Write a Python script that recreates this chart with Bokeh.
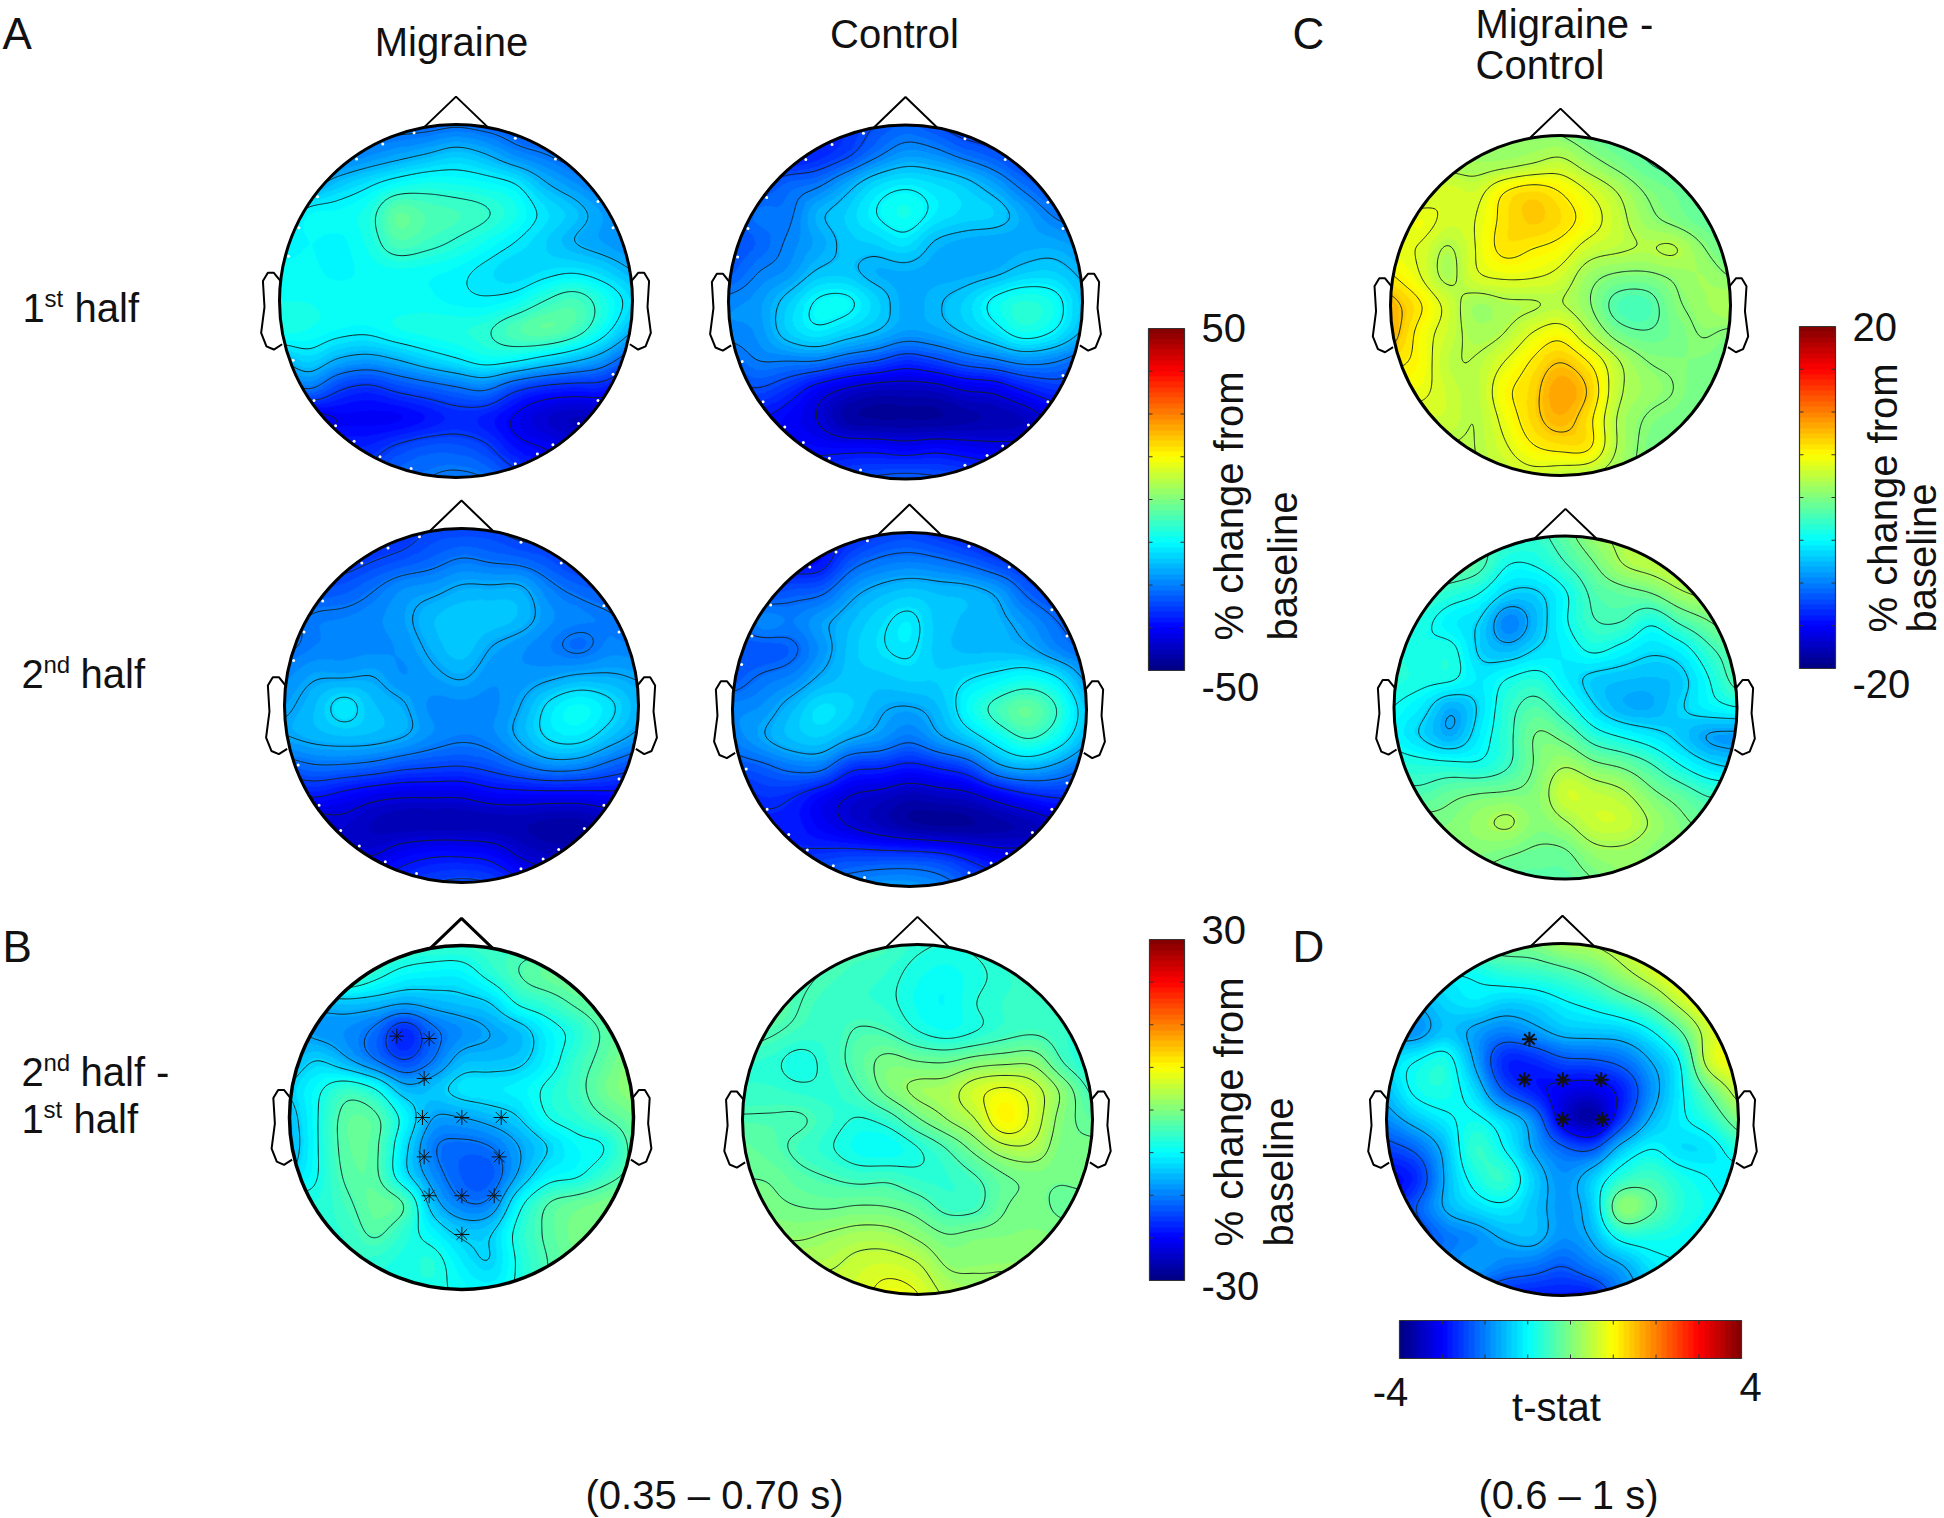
import numpy as np
from bokeh.plotting import figure
from bokeh.models import Range1d, LinearColorMapper
from bokeh.core.properties import value
from bokeh.embed import file_html
from bokeh.resources import INLINE

# ---- values: 13 x 13 samples over each head, top row first (% change / t) ----
migraine_first = [
 [-26,-26,-26,-27,-28,-28,-27,-28,-29,-30,-30,-30,-30],
 [-26,-26,-26,-24,-22,-20,-18,-20,-24,-26,-28,-28,-28],
 [-24,-22,-18,-15,-12,-10.5,-11,-12,-14,-19.5,-23,-26,-26],
 [-18,-12.5,-12,-10,-3,-5,-6,-7.5,-10.5,-15,-18,-22,-24],
 [-14,-12.5,-13,-10.5,-5,-6.5,-8.5,-11,-14,-17,-20,-22,-24],
 [-12,-12,-13,-12,-11.5,-12,-13,-15,-17,-15.5,-14.5,-16.5,-20],
 [-11,-11,-11.5,-12,-12,-12,-13,-13.5,-12,-8,-5.5,-10,-16],
 [-10,-11,-12.5,-13,-11,-10,-9.5,-8.5,-5,-3,-5.5,-12,-20],
 [-20,-16.5,-20.5,-22,-20,-17,-14.5,-12,-13,-16,-19,-23,-30],
 [-30,-26,-31.5,-33.5,-31,-29,-27,-25.5,-31,-34,-35,-35,-40],
 [-40,-40,-38,-38,-38,-36,-34,-35,-38.5,-42,-44,-44,-44],
 [-34,-34,-34,-34,-31,-29,-29,-31,-36,-38,-40,-40,-40],
 [-30,-30,-30,-30,-27,-26,-25,-26,-30,-35,-35,-35,-35],
]
control_first = [
 [-33,-33,-33,-33,-33,-30,-28,-30,-33,-33,-33,-33,-33],
 [-36,-36,-36,-34,-31,-26,-22.5,-23.5,-26.5,-29,-32,-32,-32],
 [-33,-31,-27.5,-26,-21,-16,-14,-15.5,-17.5,-21.5,-26.5,-30,-30],
 [-30,-26,-26,-20,-17,-13,-10.5,-14,-16,-17,-21,-25.5,-28],
 [-30,-28,-24.5,-21.5,-18,-17,-15,-19.5,-21,-21.5,-21,-21,-23],
 [-29,-25,-23,-18.5,-18,-20.5,-20.5,-21,-21,-20,-17.5,-17,-20],
 [-24,-22.5,-17.5,-12.5,-12,-16.5,-21,-19.5,-17,-12,-9,-11,-18],
 [-24,-23,-17,-14,-16.5,-19,-22,-21,-18.5,-15,-10.5,-13,-19.5],
 [-28,-25,-25,-25,-28,-30,-33,-31,-28,-26,-23.5,-24.5,-28],
 [-32,-30.5,-33.5,-38.5,-42,-44,-44,-43.5,-41,-40,-36,-33,-33],
 [-36,-36,-38,-41,-46,-47,-47,-47,-46,-45,-44,-40,-40],
 [-36,-36,-36,-37,-37,-37,-38,-37,-38,-39,-39,-39,-39],
 [-32,-32,-32,-32,-30,-29,-28,-29,-30,-32,-32,-32,-32],
]
migraine_second = [
 [-33,-33,-33,-33,-33,-31,-31,-31,-33,-33,-33,-33,-33],
 [-33,-33,-33,-31.5,-30,-28,-26,-27,-28,-30,-33,-33,-33],
 [-31,-30,-29,-26.5,-23.5,-22.5,-20.5,-20.5,-20.5,-25,-27.5,-29,-29],
 [-28,-25.5,-25,-24,-22,-19,-17.5,-17.5,-19,-23,-24.5,-25.5,-28],
 [-27,-25,-24.5,-24,-23,-20,-17.5,-21,-23,-25,-27,-24.5,-25],
 [-24,-21.5,-21.5,-21,-23.5,-22,-20.5,-23,-23,-22,-20.5,-20.5,-21.5],
 [-22,-19,-14.5,-18.5,-20.5,-24,-24,-24,-21,-15,-12,-15,-20],
 [-21,-19.5,-18.5,-19,-20.5,-23.5,-25,-24,-20,-15,-14,-18,-22],
 [-28,-26,-26,-27,-29,-30,-30.5,-29,-26,-23,-23.5,-27,-30],
 [-36,-35,-37,-39,-40,-40,-40,-38,-37.5,-37.5,-37.5,-37,-37],
 [-43,-43,-42,-44,-45,-45,-45,-45,-45,-46,-46,-44,-44],
 [-41,-41,-41,-41.5,-38.5,-37,-37,-38,-42,-44,-44,-44,-44],
 [-35,-35,-35,-35,-33,-31,-30,-31,-35,-38,-38,-38,-38],
]
control_second = [
 [-36,-36,-36,-36,-35,-32,-31,-33,-35,-36,-36,-36,-36],
 [-37,-37,-37,-36,-29,-26,-25,-26,-28,-31,-33,-35,-35],
 [-33,-31,-29,-28,-22.5,-19.5,-18,-19,-19.5,-22,-28,-31,-31],
 [-29,-24,-25,-22,-19,-16,-14,-18,-19,-20,-23,-27,-30],
 [-29,-29.5,-28,-23,-18,-15.5,-14.5,-18,-19,-19,-20,-24,-27],
 [-29,-26,-24,-20,-18,-18,-17,-17,-15,-13,-11,-14,-22],
 [-24,-23,-19,-15,-17,-20.5,-21.5,-19,-12,-6,-2.5,-8,-18],
 [-25,-21.5,-18.5,-17.5,-21,-23,-26,-22,-18,-12.5,-8,-12,-20],
 [-30,-28.5,-26,-26,-33,-34,-36,-34,-31,-23,-20.5,-23,-28],
 [-36,-33,-34,-38,-41.5,-43,-45,-44,-43,-39.5,-36,-34,-34],
 [-36,-35,-35,-38,-41,-43.5,-46,-47,-47,-46,-45,-42,-42],
 [-33,-33,-33,-32,-31,-31,-31,-32,-35,-38,-38,-38,-38],
 [-26,-26,-26,-25,-24,-22,-22,-24,-28,-30,-30,-30,-30],
]
migraine_diff = [
 [-4,-4,-4,-4,-4,-4.5,-4.5,-4,-4,-4,-4,-4,-4],
 [-3,-3,-3,-5.5,-7.5,-8,-8,-5.5,-3,-1.5,-1,-1,-1],
 [-11.5,-11.5,-11,-11.5,-12.5,-11.7,-11,-10,-6,-4.5,-2.5,-1,-1],
 [-12,-13.5,-14.2,-16.3,-20.5,-16.3,-14.2,-12.8,-11.4,-8,-5.5,-2.5,-1],
 [-12,-10,-12.4,-15.6,-18.4,-15.6,-11.7,-11.4,-10.7,-8,-4.5,-2,1],
 [-10,-7,-4.5,-6.5,-11.7,-11,-9,-8.5,-8,-6,-4,-1,1],
 [-11.4,-6.5,-2,-2.5,-7.5,-12.8,-12.8,-11.7,-10,-6.5,-5,-3,-1],
 [-12,-6.5,-2,-2.5,-9,-15.2,-16.3,-15.6,-12.8,-10,-7.5,-6.5,-2],
 [-10,-6.5,-2.5,-2.5,-9,-14.2,-17,-17.4,-12.4,-8,-7,-4.5,-2],
 [-5,-5.5,-3.5,-1.5,-3,-11.4,-15.2,-14.9,-7.5,-3,-1.5,-0.5,1],
 [-5,-5,-4.5,-2.5,-5,-8,-10.7,-10.3,-5.5,-2.5,-0.5,0,0],
 [-5,-5,-5,-5,-6,-5.5,-8.5,-10,-6,-3,-1,0,0],
 [-6,-6,-6,-6,-6,-6,-7,-8,-6,-3,-1,0,0],
]
control_diff = [
 [-3,-3,-3,-3,-3,-3.5,-5,-5.5,-5,-4,-4,-4,-4],
 [-3,-3,-3,-3.5,-4.2,-4.8,-6.3,-7,-6,-4.8,-4.3,-4,-4],
 [-2,-2,-3.3,-4.2,-4.5,-5,-6.8,-7.5,-5.5,-4.6,-4.4,-4,-4],
 [-2,-3,-4,-4.3,-3,-3.4,-5.4,-6.5,-5.5,-4.2,-3.6,-4.5,-6],
 [-4.5,-5,-6.3,-4.5,-2.2,-0.3,-1,-1.2,0,0.5,0.5,-3.5,-6.5],
 [-4.5,-4.5,-5,-5,-3.3,-0.2,1.8,2.4,5,6.3,4.5,0.5,-4],
 [-3,-3,-3,-4.5,-5.7,-4.5,-1.3,1.2,3.5,8,4.8,0,-2],
 [-1.5,-2.5,-4,-5.3,-7,-7.3,-5.7,-3.3,-0.2,2.7,2.8,-0.5,-0.5],
 [-1,-1.2,-2.5,-3.3,-4,-3.8,-4.8,-4.8,-3.5,-1.3,-0.5,-0.8,0],
 [0,-0.5,-1,-1.2,-0.8,-1,-2,-4,-3.8,-1.1,-0.5,-1.5,-2],
 [1,1,0.9,1.6,2.3,2.2,0.8,-0.8,-0.2,0,0.2,0,0],
 [3,3,3,3.2,4.4,4.8,3.8,1,0.9,1,1,1,1],
 [5,5,5,5,5,7,6,3,2,2,2,2,2],
]
group_first = [
 [1,1,1,1,0.5,0.4,0.3,-0.8,-1.5,-1.5,-1.5,-2,-2],
 [1.5,1.5,1.5,1.3,1.5,2.1,2.7,1.2,-0.1,-1.2,-1.7,-2,-2],
 [2,2.5,3.6,3.2,5.5,6.5,5.5,3.8,2.1,0.3,-0.6,-1.5,-2],
 [3,4.5,3.4,3.8,6,7,6.3,4.7,2.8,1,0,-1,-1.6],
 [4,3.7,1.9,3.8,6,5.5,4.8,3,2.4,2,2.3,0.6,-1.3],
 [5.8,4,1.7,3.5,4,3.9,3.2,1,0,-0.1,0.6,1.3,0.4],
 [8,5.8,3.3,1.1,1.7,1.9,2.2,0.6,-2,-2.3,0,1,2],
 [8.2,5,3,1.6,2.1,3.9,4.9,2.3,-0.3,-1.1,-0.5,0.5,0],
 [6,5,2.5,2.2,3.8,5.7,7.2,5.5,2.4,0.5,0.1,-0.1,-0.5],
 [4.5,4.3,3,2.3,5,6.5,8.8,7,2.6,1.1,0.4,-0.5,-0.5],
 [3,3,3,2.1,4.3,6.5,8,6,2,0.3,-0.2,-0.5,-0.5],
 [2,2,2,2.1,3.5,5.3,6,5.8,2,0,-0.3,-0.5,-0.5],
 [2,2,2,2,2.5,3,2.5,2,1,0,0,0,0],
]
group_second = [
 [-2,-2,-2,-2.5,-2.5,-3,-1.2,1,2,2.5,3,3,3],
 [-1,-1,-1,-2,-4.5,-4.3,-2.6,-0.6,1.5,2.3,3,3,3],
 [-2,-2.5,-3.5,-4.5,-6.7,-6.7,-4.7,-2,-1.2,-0.5,1.2,2,2],
 [-3,-4,-5.5,-6.6,-10,-7.5,-4.7,-2.6,-2.5,-4.2,-2.2,-0.6,1],
 [-3.5,-4.3,-4,-6.8,-7.7,-6.3,-5.5,-4.2,-5.2,-6.2,-5.5,-3,-1],
 [-3.5,-4,-4.2,-5.7,-4.4,-3.7,-5.6,-7,-7.4,-7.6,-7.1,-4.6,-1.5],
 [-4.5,-5.8,-8.2,-6.2,-3.2,-1.8,-3.7,-6.3,-8,-8.2,-6.7,-5.3,-4.5],
 [-5,-6.7,-8.2,-5.5,-3,-0.3,-1.1,-3.5,-4.7,-5.7,-7,-8.7,-9],
 [-3.5,-3.8,-4,-4.2,-2.7,-0.2,1.3,-0.1,-0.9,-2.4,-4.5,-6.2,-7],
 [-2,-2,-1,-0.5,-0.3,0.3,3.2,2.6,1.8,-0.1,-1.4,-2.8,-3],
 [0,0,0,1,1.8,0.3,1.4,3,3,1.3,-0.1,-1,-1],
 [0,0,0,0.2,-0.2,-0.7,-0.6,1,1.2,0.5,0,0,0],
 [-1,-1,-1,-1,-1.5,-1.5,-1.5,-0.5,0.5,0.5,0.5,0.5,0.5],
]
tstat_map = [
 [0,0,0,0,0,0,0.3,0.4,0.6,0.8,1,1,1],
 [-1,-1,-1,-0.9,-0.7,-0.6,-0.45,-0.2,0.2,0.6,1,1.1,1.1],
 [-1.6,-1.6,-1.3,-1.15,-1.35,-1.3,-1.05,-0.85,-0.55,-0.15,0.5,1,1],
 [-1.8,-1.85,-1.45,-1.75,-2,-1.8,-1.5,-1.45,-1.4,-1.05,-0.35,0.6,1],
 [-1.3,-1,-0.8,-1.7,-2.7,-2.7,-2.4,-2.35,-2.15,-1.65,-1,0.6,1],
 [-1.5,-0.9,-0.8,-1.3,-2.35,-2.8,-3.1,-3.2,-2.8,-1.9,-1.1,-0.2,0.6],
 [-1.9,-1.45,-1.1,-0.9,-1.3,-1.9,-3.2,-3.7,-2.6,-1.6,-1.1,-0.7,0],
 [-2.5,-2.2,-1.5,-0.6,-1,-1.7,-2.2,-2.35,-1.45,-1,-1.25,-1.2,-0.7],
 [-3,-2.7,-1.6,-0.85,-0.6,-1.35,-1.85,-1.4,-0.7,-0.5,-0.8,-1,-1.2],
 [-3,-2.3,-1.6,-1.25,-1.1,-1.45,-1.8,-1.4,0.1,-0.2,-0.7,-0.9,-1],
 [-2.5,-2.5,-2.1,-1.9,-1.6,-1.5,-1.85,-1.6,-0.85,-0.8,-0.9,-1,-1],
 [-2,-2,-2,-1.75,-2,-2.1,-2.3,-2,-1.7,-1.2,-1,-1,-1],
 [-2.5,-2.5,-2.5,-2.5,-2.7,-2.8,-2.8,-2.8,-2,-1.5,-1,-1,-1],
]
# contour levels and scales
levels_mf = [-38,-32,-26,-20,-14,-8]
levels_cf = [-41,-36,-30,-25,-19,-13]
levels_ms = [-41,-36,-31,-26,-21,-16]
levels_cs = [-41,-34,-27,-21,-15,-8]
levels_md = [-18.4,-15.6,-12.8,-10,-6.5,-3]
levels_cd = [-5.5,-3.3,-1,1.2,3.5,5.8]
levels_gf = [-1.3,0.4,2.1,3.8,5.5,7.2]
levels_gs = [-8.5,-6.5,-4.5,-2.5,-0.5,1.5]
levels_t  = [-2.95,-2.3,-1.65,-1,-0.3,0.35]
# significant electrodes (right, up in head radii)
stars_b_x = [-0.376,-0.188,-0.217,-0.227,0.002,0.231,-0.217,0.219,-0.188,0.002,0.190,0.002]
stars_b_y = [0.473,0.459,0.227,0,0,0,-0.229,-0.229,-0.455,-0.455,-0.455,-0.680]
stars_d_x = [-0.188,-0.216,0.002,0.220,0.002,0.226]
stars_d_y = [0.456,0.226,0.226,0.226,0,0]
# white electrode marks on the rim of panel A (degrees)
rim_angles = [125,115,104,70,55,35,25,155,143,165,200,215,226,234,244,255,335,325,315,304,298,290]
# head outline (head radii)
nose_x = [-0.18,0,0.18]
nose_y = [0.985,1.158,0.985]
ear_x = [0.994,1.032,1.066,1.094,1.085,1.104,1.074,1.032,0.985]
ear_y = [0.113,0.16,0.16,0.113,-0.034,-0.181,-0.257,-0.275,-0.245]

def jet(n=64):
    out = []
    for i in range(n):
        t = (i + 0.5) / n
        r = np.clip(min(4*t-1.5, -4*t+4.5), 0, 1)
        g = np.clip(min(4*t-0.5, -4*t+3.5), 0, 1)
        b = np.clip(min(4*t+0.5, -4*t+2.5), 0, 1)
        out.append("#%02x%02x%02x" % (int(r*255), int(g*255), int(b*255)))
    return out
JET = jet()

def cubic_axis(a, m):
    a = np.asarray(a, float)
    n = a.shape[0]
    pad = np.concatenate([[2*a[0]-a[1]], a, [2*a[-1]-a[-2]]], axis=0)
    ts = np.linspace(0, n-1, m)
    i = np.clip(np.floor(ts).astype(int), 0, n-2)
    u = ts - i
    w = [(-u+2*u**2-u**3)/2, (2-5*u**2+3*u**3)/2, (u+4*u**2-3*u**3)/2, (-u**2+u**3)/2]
    sh = (m,) + (1,)*(a.ndim-1)
    return sum(w[k].reshape(sh) * pad[i+k] for k in range(4))

def field(grid, m=361, sigma=4.0):
    z = cubic_axis(cubic_axis(grid, m).T, m).T
    r = int(3*sigma)
    k = np.exp(-0.5*(np.arange(-r, r+1)/sigma)**2); k /= k.sum()
    zp = np.pad(z, r, mode="edge")
    zp = np.apply_along_axis(lambda v: np.convolve(v, k, mode="same"), 0, zp)
    zp = np.apply_along_axis(lambda v: np.convolve(v, k, mode="same"), 1, zp)
    return zp[r:-r, r:-r]

p = figure(width=1944, height=1518, x_range=Range1d(0, 1944), y_range=Range1d(1518, 0),
           x_axis_location=None, y_axis_location=None, toolbar_location=None,
           output_backend="svg", min_border=0, outline_line_color=None)
p.grid.visible = False

def head(grid, levels, cx, cy, r, scale, rim=3.0, nose_w=2.0, marks=False):
    m = 361
    z = field(grid, m)
    u = np.linspace(-1, 1, m)
    X, Y = np.meshgrid(u, u)
    inside = X**2 + Y**2 <= 1.0
    mapper = LinearColorMapper(palette=JET, low=-scale, high=scale, nan_color=(0, 0, 0, 0))
    zi = np.where(inside, z, np.nan)
    p.image(image=[zi], x=cx-r, y=cy-r, dw=2*r, dh=2*r, color_mapper=mapper)
    zm = np.ma.masked_where(~inside, z)
    p.contour(cx + r*u, cy + r*u, zm, levels, fill_color=None, line_color="#142222", line_width=1.0)
    if marks:
        a = np.radians(rim_angles)
        p.scatter(cx + 0.982*r*np.cos(a), cy - 0.982*r*np.sin(a), marker="circle", size=3,
                  fill_color="white", line_color=None)
    p.circle(x=[cx], y=[cy], radius=r, fill_color=None, line_color="black", line_width=rim)
    p.line([cx + r*v for v in nose_x], [cy - r*v for v in nose_y], line_color="black", line_width=nose_w)
    for sgn in (-1, 1):
        p.line([cx + sgn*r*v for v in ear_x], [cy - r*v for v in ear_y], line_color="black", line_width=2.0)

head(migraine_first, levels_mf, 455.5, 300.5, 176.5, 50, marks=True)
head(control_first, levels_cf, 905, 301.5, 177, 50, marks=True)
head(migraine_second, levels_ms, 461, 705, 177, 50, marks=True)
head(control_second, levels_cs, 909, 709, 177, 50, marks=True)
head(migraine_diff, levels_md, 461, 1117, 172, 30, rim=3.5, nose_w=3.0)
head(control_diff, levels_cd, 917, 1119, 175, 30)
head(group_first, levels_gf, 1560, 305, 170, 20)
head(group_second, levels_gs, 1565, 707, 171.5, 20)
head(tstat_map, levels_t, 1562, 1119, 176, 4)

p.scatter([461 + 172*v for v in stars_b_x], [1117 - 172*v for v in stars_b_y], marker="asterisk",
          size=15, line_color="#111111", line_width=1.0)
p.scatter([1562 + 176*v for v in stars_d_x], [1119 - 176*v for v in stars_d_y], marker="asterisk",
          size=15, line_color="#111111", line_width=2.0)

def colorbar(left, top, right, bottom, scale, vertical=True):
    n = 256
    ramp = np.linspace(-scale, scale, n)
    mapper = LinearColorMapper(palette=JET, low=-scale, high=scale)
    if vertical:
        img = ramp.reshape(n, 1)[::-1]
    else:
        img = ramp.reshape(1, n)
    p.image(image=[img], x=left, y=top, dw=right-left, dh=bottom-top, color_mapper=mapper)
    p.quad(left=[left], right=[right], top=[top], bottom=[bottom], fill_color=None, line_color="#333333", line_width=1.2)
    for k in range(1, 8):
        if vertical:
            yy = top + (bottom-top)*k/8
            p.segment([left, right-4], [yy, yy], [left+4, right], [yy, yy], line_color="#333333", line_width=1)
        else:
            xx = left + (right-left)*k/8
            p.segment([xx, xx], [top, bottom-4], [xx, xx], [top+4, bottom], line_color="#333333", line_width=1)

colorbar(1148, 328, 1184, 670, 50)
colorbar(1149, 939, 1184, 1280, 30)
colorbar(1799, 326, 1835, 668, 20)
colorbar(1399, 1320, 1741, 1358, 4, vertical=False)

def label(x, y, s, size=40, align="left", angle=0.0):
    p.text(x=[x], y=[y], text=[s], text_font=value("Liberation Sans"), text_font_size=value(f"{size}px"),
           text_align=align, text_baseline="middle", angle=angle, text_color="#111111")

for s, x, y in [("A", 2, 33), ("C", 1292, 33), ("B", 2, 946), ("D", 1292, 946)]:
    label(x, y, s, 44)
label(451, 41, "Migraine", align="center")
label(894, 33, "Control", align="center")
label(1475, 23, "Migraine -")
label(1475, 64, "Control")

def ordinal(x, y, num, sup, rest):
    label(x, y, num)
    label(x+22, y-9, sup, 24)
    w = 19 if sup == "st" else 26
    label(x+22+w+11, y, rest)

ordinal(22, 307, "1", "st", "half")
ordinal(21, 673, "2", "nd", "half")
ordinal(21, 1071, "2", "nd", "half -")
ordinal(21, 1118, "1", "st", "half")

label(1201, 327, "50"); label(1201, 686, "-50")
label(1201, 929, "30"); label(1201, 1285, "-30")
label(1852, 326, "20"); label(1852, 683, "-20")
for x1, x2, yb in [(1228, 1282, 640), (1228, 1278, 1246), (1882, 1921, 632)]:
    label(x1, yb, "% change from", angle=np.pi/2)
    label(x2, yb, "baseline", angle=np.pi/2)
label(1390, 1391, "-4", align="center")
label(1750, 1386, "4", align="center")
label(1556, 1406, "t-stat", align="center")
label(714, 1494, "(0.35 – 0.70 s)", align="center")
label(1568, 1494, "(0.6 – 1 s)", align="center")

open("out.html", "w").write(file_html(p, INLINE))
